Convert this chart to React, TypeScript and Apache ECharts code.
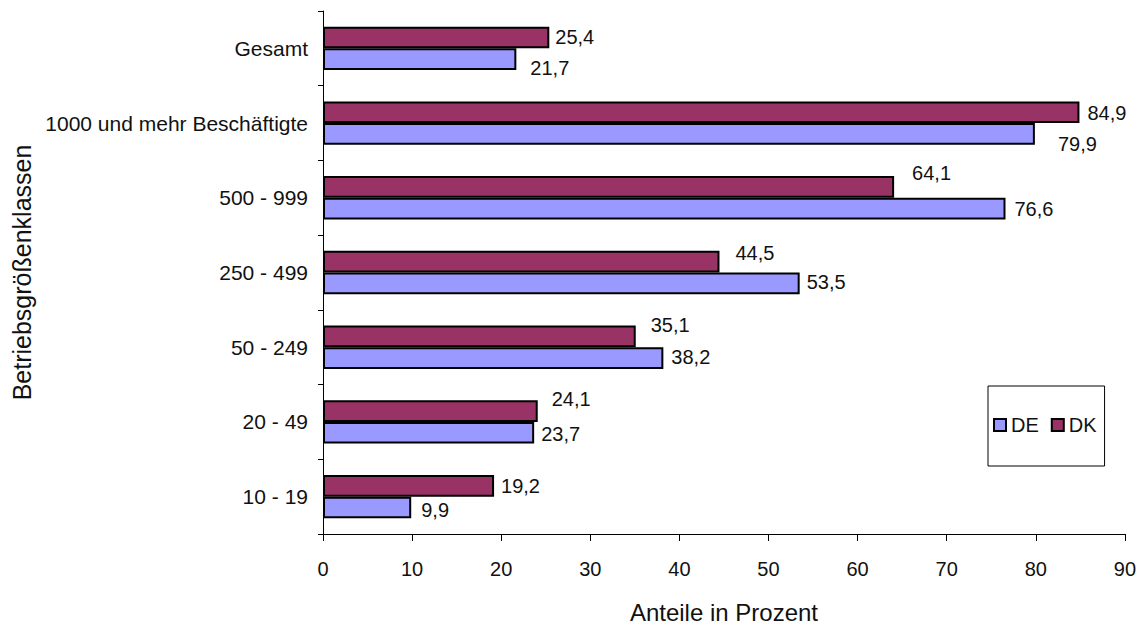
import React, { useEffect, useRef } from "react";
import * as echarts from "echarts";

// Categories listed bottom-to-top (ECharts category y-axis grows upward)
const categories = ["10 - 19", "20 - 49", "50 - 249", "250 - 499", "500 - 999", "1000 und mehr Beschäftigte", "Gesamt"];
const deValues = [9.9, 23.7, 38.2, 53.5, 76.6, 79.9, 21.7];
const dkValues = [19.2, 24.1, 35.1, 44.5, 64.1, 84.9, 25.4];
const xTicks = [0, 10, 20, 30, 40, 50, 60, 70, 80, 90];

// label offsets (style only), same order as categories
const deLabelOffsets = [[5, 3], [2, 1], [3, -1], [2, -1], [4, 0], [18, 10], [9, 9]];
const dkLabelOffsets = [[2, 0], [9, -12], [10, -11], [11, -9], [13, -14], [3, 1], [1, -1]];

const FONT = "'Liberation Sans', Arial, sans-serif";
const fmt = (v: number) => v.toFixed(1).replace(".", ",");

export default function App() {
  const ref = useRef<HTMLDivElement>(null);
  useEffect(() => {
    if (!ref.current) return;
    const chart = echarts.init(ref.current, null, { renderer: "svg" });
    const mk = (vals: number[], offs: number[][]) =>
      vals.map((v, i) => ({ value: v, label: { offset: offs[i] } }));
    const labelCfg = {
      show: true,
      position: "right",
      distance: 5,
      fontSize: 20,
      color: "#111",
      fontFamily: FONT,
      formatter: (p: any) => fmt(p.value),
    };
    chart.setOption({
      animation: false,
      backgroundColor: "#ffffff",
      textStyle: { fontFamily: FONT, color: "#111" },
      grid: { left: 323, right: 11, top: 11, bottom: 85, containLabel: false },
      legend: {
        data: ["DE", "DK"],
        left: 988,
        top: 386,
        orient: "horizontal",
        icon: "rect",
        itemWidth: 12,
        itemHeight: 12,
        itemGap: 12,
        padding: [29, 8, 31, 5],
        borderColor: "#000",
        borderWidth: 1,
        textStyle: { fontSize: 20, color: "#111", fontFamily: FONT },
      },
      xAxis: {
        type: "value",
        min: xTicks[0],
        max: xTicks[xTicks.length - 1],
        interval: 10,
        name: "Anteile in Prozent",
        nameLocation: "middle",
        nameGap: 66,
        nameTextStyle: { fontSize: 24, color: "#111", fontFamily: FONT },
        axisLine: { show: true, lineStyle: { color: "#000", width: 1 } },
        axisTick: { show: true, length: 7, lineStyle: { color: "#000" } },
        axisLabel: { fontSize: 20, color: "#111", margin: 25, fontFamily: FONT },
        splitLine: { show: false },
      },
      yAxis: {
        type: "category",
        data: categories,
        name: "Betriebsgrößenklassen",
        nameLocation: "middle",
        nameGap: 288,
        nameRotate: 90,
        nameTextStyle: { fontSize: 25, color: "#111", fontFamily: FONT },
        axisLine: { show: true, lineStyle: { color: "#000", width: 1 } },
        axisTick: { show: true, length: 5, lineStyle: { color: "#000" } },
        axisLabel: { fontSize: 21, color: "#111", margin: 15, fontFamily: FONT },
      },
      series: [
        {
          name: "DK",
          type: "bar",
          data: mk(dkValues, dkLabelOffsets),
          barGap: "0%",
          barCategoryGap: "42%",
          itemStyle: { color: "#993366", borderColor: "#000", borderWidth: 2 },
          label: labelCfg,
        },
        {
          name: "DE",
          type: "bar",
          data: mk(deValues, deLabelOffsets),
          barGap: "0%",
          barCategoryGap: "42%",
          itemStyle: { color: "#9999FF", borderColor: "#000", borderWidth: 2 },
          label: labelCfg,
        },
      ],
    });
    return () => chart.dispose();
  }, []);
  return (
    <div
      ref={ref}
      style={{ position: "fixed", left: 0, top: 0, width: 1139, height: 629, background: "#fff" }}
    />
  );
}
